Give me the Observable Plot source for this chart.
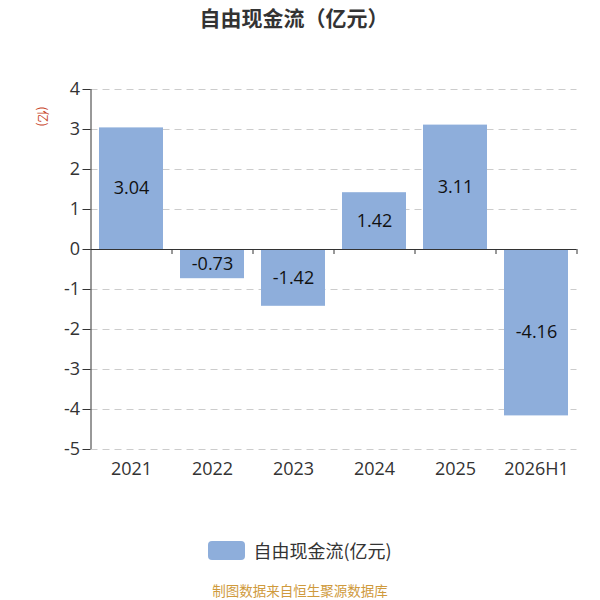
<!DOCTYPE html>
<html>
<head>
<meta charset="utf-8">
<script src="https://cdn.jsdelivr.net/npm/d3@7"></script>
<script src="https://cdn.jsdelivr.net/npm/@observablehq/plot@0.6"></script>
<style>
  html, body { margin: 0; padding: 0; background: #fff; }
  body { width: 600px; height: 600px; position: relative; overflow: hidden;
         font-family: "Open Sans", "Noto Sans CJK SC", sans-serif; }
  #title { position: absolute; left: 0; top: 2px; width: 588px; text-align: center;
           font-family: "Noto Sans CJK SC", sans-serif;
           font-size: 21px; font-weight: bold; color: #333; line-height: 30px; }
  #chart { position: absolute; left: 0; top: 40px; }
  #legend { position: absolute; left: 0; top: 536px; width: 600px; display: flex;
            justify-content: center; align-items: center; font-size: 18px; color: #333;
            font-family: "Noto Sans CJK SC", sans-serif; line-height: 28px; }
  #legend .sw { width: 37px; height: 19px; border-radius: 4px; background: #8eaedb; margin-right: 8px; }
  #footer { position: absolute; left: 0; top: 580px; width: 600px; text-align: center;
            font-family: "Noto Sans CJK SC", sans-serif;
            font-size: 13.5px; color: #cf9a3c; line-height: 20px; }
  #unit { position: absolute; left: 33px; top: 108px; font-size: 12px; color: #c8462a;
          font-family: "Noto Sans CJK SC", sans-serif;
          transform: rotate(90deg); transform-origin: center; white-space: nowrap; }
</style>
</head>
<body>
<div id="title">自由现金流（亿元）</div>
<div id="chart"></div>
<div id="unit">(亿)</div>
<div id="legend"><div class="sw"></div><span>自由现金流(亿元)</span></div>
<div id="footer">制图数据来自恒生聚源数据库</div>
<script>
const categories = ["2021", "2022", "2023", "2024", "2025", "2026H1"];
const values = [3.04, -0.73, -1.42, 1.42, 3.11, -4.16];
const yTicks = [-5, -4, -3, -2, -1, 0, 1, 2, 3, 4];

const data = categories.map((c, i) => ({cat: c, v: values[i]}));

const W = 600, H = 490, mL = 90.5, mR = 23.5, mT = 49, mB = 81;
const step = (W - mL - mR) / categories.length;
const barColor = "#8eaedb";
const font = '"Open Sans", "Noto Sans CJK SC", sans-serif';

const chart = Plot.plot({
  width: W, height: H,
  marginLeft: mL, marginRight: mR, marginTop: mT, marginBottom: mB,
  style: {fontFamily: font, background: "transparent"},
  x: {type: "band", domain: categories, paddingInner: 0.21, paddingOuter: 0.105, round: false, axis: null},
  y: {domain: [-5, 4], ticks: yTicks, axis: null},
  marks: [
    Plot.ruleY(yTicks.filter(t => t !== 0), {y: d => d, stroke: "#cccccc", strokeDasharray: "7,5", strokeWidth: 1}),
    Plot.barY(data, {x: "cat", y: "v", fill: barColor}),
    Plot.text(data, {x: "cat", y: d => d.v / 2, text: d => d.v.toFixed(2), fontSize: 18, fill: "#111"}),
    Plot.ruleY([0], {stroke: "#333", strokeWidth: 1}),
    // y axis line
    Plot.ruleX([categories[0]], {x: d => d, dx: -step / 2, y1: -5, y2: 4, stroke: "#333"}),
    // y axis ticks & labels
    Plot.axisY({ticks: yTicks, label: null, tickSize: 8, tickPadding: 3, fontSize: 18, color: "#333",
                tickFormat: d => String(d).replace("\u2212", "-")}),
    // category boundary ticks on the zero line
    Plot.ruleX(categories.slice(1), {x: d => d, dx: -step / 2, y1: 0, y2: -0.125, stroke: "#333"}),
    Plot.ruleX([categories[categories.length - 1]], {x: d => d, dx: step / 2, y1: 0, y2: -0.125, stroke: "#333"}),
    // category labels
    Plot.text(categories, {x: d => d, y: -5, dy: 20, fontSize: 18, fill: "#333"})
  ]
});
document.getElementById("chart").appendChild(chart);
</script>
</body>
</html>
